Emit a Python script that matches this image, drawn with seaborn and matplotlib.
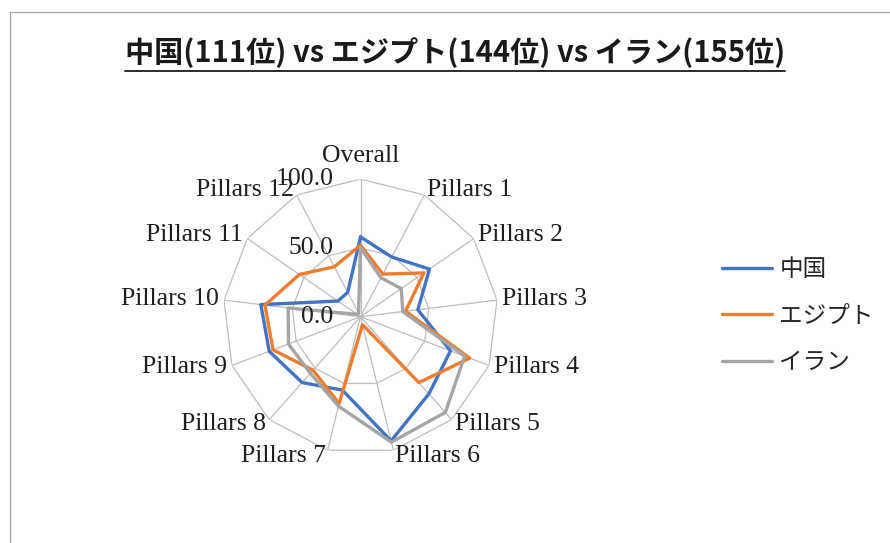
import numpy as np
import pandas as pd
import matplotlib
matplotlib.use("Agg")
import matplotlib.pyplot as plt
import seaborn as sns
from matplotlib.lines import Line2D
from matplotlib.transforms import offset_copy

# データ
categories = ["Overall", "Pillars 1", "Pillars 2", "Pillars 3", "Pillars 4", "Pillars 5", "Pillars 6",
              "Pillars 7", "Pillars 8", "Pillars 9", "Pillars 10", "Pillars 11", "Pillars 12"]
china = [58, 49, 61, 42, 70, 75, 93, 55, 64, 71, 73, 20, 20]
egypt = [52, 35, 56, 33, 85, 64, 6, 65, 52, 68, 70, 54, 41]
iran = [50, 32, 36, 31, 81, 93, 94, 67, 55, 56, 53, 3, 3]
series_names = ["中国", "エジプト", "イラン"]
radial_ticks = [0, 50, 100]
title = "中国(111位) vs エジプト(144位) vs イラン(155位)"

colors = {"中国": "#4472C4", "エジプト": "#ED7D31", "イラン": "#A5A5A5"}
grid_color = "#BDBDBD"

sns.set_style("white")
plt.rcParams["font.family"] = ["Noto Sans CJK JP", "DejaVu Sans"]

# 角度（閉じた多角形にするため最初の点を最後に追加）
n = len(categories)
angles = np.linspace(0, 2 * np.pi, n, endpoint=False)
closed_angles = np.append(angles, 2 * np.pi)

rows = []
for name, vals in zip(series_names, [china, egypt, iran]):
    for a, v in zip(closed_angles, vals + vals[:1]):
        rows.append({"theta": a, "value": v, "country": name})
df = pd.DataFrame(rows)

W, H = 890, 543
fig = plt.figure(figsize=(W / 100, H / 100), dpi=100)

# レーダーの中心と半径（ピクセル）
cx, cy, R = 360.5, 316.7, 137.5
ax = fig.add_axes([(cx - R) / W, (H - cy - R) / H, 2 * R / W, 2 * R / H], projection="polar")
ax.set_theta_zero_location("N")
ax.set_theta_direction(-1)
ax.set_ylim(0, 100)
ax.set_xticks([])
ax.set_yticks([])
ax.grid(False)
ax.spines["polar"].set_visible(False)
ax.patch.set_alpha(0)

# 多角形のグリッド
for r in radial_ticks[1:]:
    ax.plot(closed_angles, [r] * len(closed_angles), color=grid_color, lw=0.9, zorder=1)
for a in angles:
    ax.plot([a, a], [0, 100], color=grid_color, lw=0.9, zorder=1)

sns.lineplot(data=df, x="theta", y="value", hue="country", hue_order=series_names,
             palette=colors, sort=False, estimator=None, linewidth=2.4, ax=ax, zorder=3)
ax.set_xlabel("")
ax.set_ylabel("")
handles, labels = ax.get_legend_handles_labels()
ax.get_legend().remove()

# 軸ラベル
serif = "Liberation Serif"
for a, lab in zip(angles, categories):
    s = np.sin(a)
    if abs(s) < 1e-6:
        ax.text(a, 117, lab, ha="center", va="center", fontsize=18.5, family=serif, color="#1f1f1f")
    else:
        ax.text(a, 104, lab, ha="left" if s > 0 else "right", va="center",
                fontsize=18.5, family=serif, color="#1f1f1f")

# 目盛りラベル
tr = offset_copy(ax.transData, fig=fig, x=-27, y=0, units="dots")
for t in radial_ticks:
    ax.text(0, t, f"{t:.1f}", transform=tr, ha="right", va="center",
            fontsize=18.5, family=serif, color="#1f1f1f")

# タイトル（下線付き）
ttl = fig.text(455 / W, 1 - 53 / H, title, ha="center", va="center",
               fontsize=21, fontweight="bold", color="#1a1a1a")
fig.canvas.draw()
bb = ttl.get_window_extent(fig.canvas.get_renderer())
uy = 1 - 71 / H
fig.add_artist(Line2D([bb.x0 / W, bb.x1 / W], [uy, uy], color="#1a1a1a", lw=1.3))

# 凡例
fig.legend(handles, labels, loc="center left", bbox_to_anchor=(722 / W, 1 - 316 / H),
           frameon=False, fontsize=17, handlelength=2.1, handletextpad=0.33,
           labelspacing=1.0, borderpad=0, borderaxespad=0)

# グラフエリアの枠
fig.add_artist(Line2D([10 / W, 1], [1 - 12 / H, 1 - 12 / H], color="#A6A6A6", lw=0.9))
fig.add_artist(Line2D([10 / W, 10 / W], [0, 1 - 12 / H], color="#A6A6A6", lw=0.9))

fig.savefig("out.png", dpi=100)
